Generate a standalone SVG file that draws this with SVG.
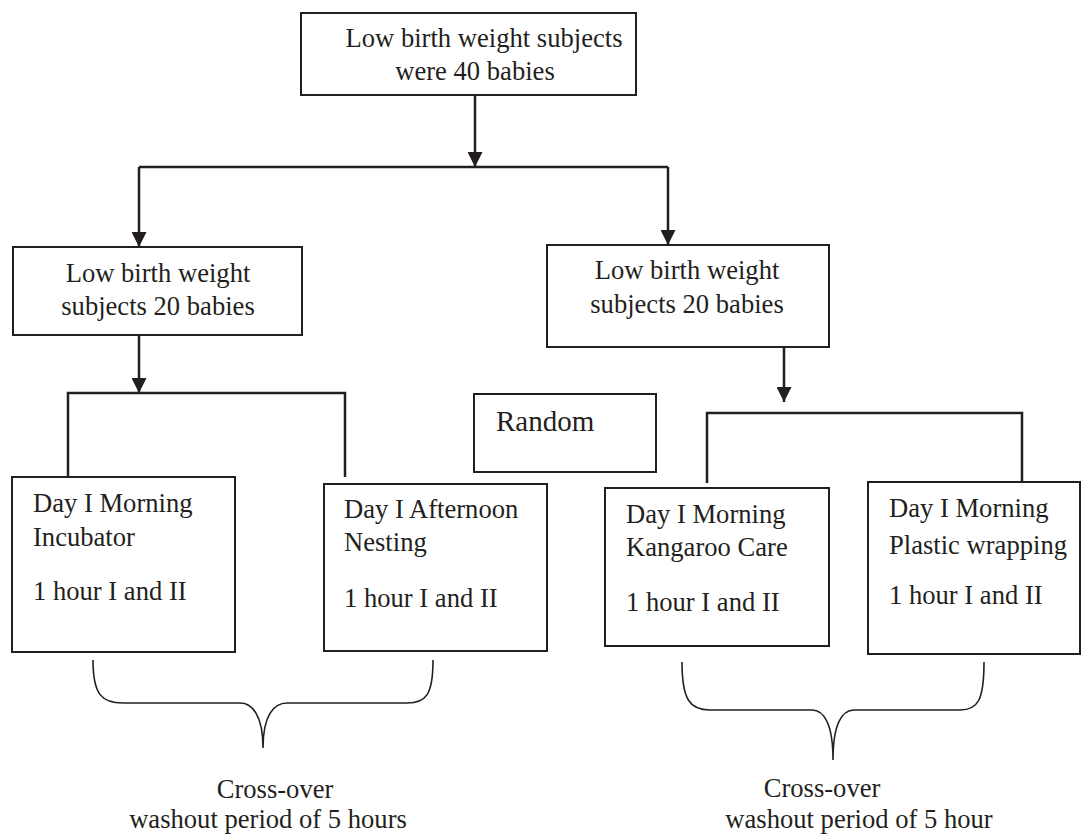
<svg xmlns="http://www.w3.org/2000/svg" width="1083" height="834" viewBox="0 0 1083 834">
<defs>
<marker id="arr" markerUnits="userSpaceOnUse" markerWidth="16" markerHeight="15" refX="15" refY="7.5" orient="auto">
<path d="M0,0 L15,7.5 L0,15 z" fill="#231f20"/>
</marker>
<style>
.box{fill:#fff;stroke:#231f20;stroke-width:2}
.t{font-family:"Liberation Serif","Times New Roman",serif;font-size:26.6px;fill:#231f20}
.c{text-anchor:middle}
.ln{fill:none;stroke:#231f20;stroke-width:2.5}
.ar{fill:none;stroke:#231f20;stroke-width:2.5;marker-end:url(#arr)}
.br{fill:none;stroke:#231f20;stroke-width:1.6}
</style>
</defs>
<rect width="1083" height="834" fill="#fff"/>
<g id="connectors">
<line class="ar" x1="475" y1="95" x2="475" y2="167"/>
<line class="ln" x1="139" y1="167" x2="668" y2="167"/>
<line class="ar" x1="139" y1="167" x2="139" y2="247"/>
<line class="ar" x1="668" y1="167" x2="668" y2="245"/>
<line class="ar" x1="139" y1="335" x2="139" y2="393"/>
<path class="ln" d="M68,477 V393 H345 V477"/>
<line class="ar" x1="784" y1="347" x2="784" y2="402"/>
<path class="ln" d="M707,483 V413 H1022 V482"/>
<path class="br" d="M93,660 C93,695 102,703 123,703 L240,703 C252,703 263,715 263,748 C263,715 274,703 287,703 L407,703 C426,703 433,695 433,660"/>
<path class="br" d="M682,662 C682,700 690,710 710,710 L812,710 C824,710 833,724 833,760 C833,724 842,710 854,710 L960,710 C978,710 984,700 984,662"/>
</g>
<g id="top">
<rect class="box" x="301" y="13" width="335" height="82"/>
<text class="t c" x="484" y="47">Low birth weight subjects</text>
<text class="t c" x="475" y="80">were 40 babies</text>
</g>
<g id="left-group">
<rect class="box" x="13" y="247" width="289" height="88"/>
<text class="t c" x="158" y="282">Low birth weight</text>
<text class="t c" x="158" y="315">subjects 20 babies</text>
</g>
<g id="right-group">
<rect class="box" x="547" y="245" width="282" height="102"/>
<text class="t c" x="687" y="279">Low birth weight</text>
<text class="t c" x="687" y="313">subjects 20 babies</text>
</g>
<g id="random">
<rect class="box" x="474" y="394" width="182" height="78"/>
<text class="t" x="496" y="431" style="font-size:29px">Random</text>
</g>
<g id="incubator">
<rect class="box" x="12" y="477" width="223" height="175"/>
<text class="t" x="33" y="512">Day I Morning</text>
<text class="t" x="33" y="546">Incubator</text>
<text class="t" x="33" y="600">1 hour I and II</text>
</g>
<g id="nesting">
<rect class="box" x="324" y="484" width="223" height="167"/>
<text class="t" x="344" y="518">Day I Afternoon</text>
<text class="t" x="344" y="551">Nesting</text>
<text class="t" x="344" y="607">1 hour I and II</text>
</g>
<g id="kangaroo">
<rect class="box" x="605" y="488" width="224" height="158"/>
<text class="t" x="626" y="523">Day I Morning</text>
<text class="t" x="626" y="556">Kangaroo Care</text>
<text class="t" x="626" y="611">1 hour I and II</text>
</g>
<g id="plastic">
<rect class="box" x="868" y="482" width="212" height="172"/>
<text class="t" x="889" y="517">Day I Morning</text>
<text class="t" x="889" y="554">Plastic wrapping</text>
<text class="t" x="889" y="604">1 hour I and II</text>
</g>
<g id="crossover-left">
<text class="t c" x="275" y="798">Cross-over</text>
<text class="t c" x="268" y="828">washout period of 5 hours</text>
</g>
<g id="crossover-right">
<text class="t c" x="822" y="797">Cross-over</text>
<text class="t c" x="859" y="828">washout period of 5 hour</text>
</g>
</svg>
